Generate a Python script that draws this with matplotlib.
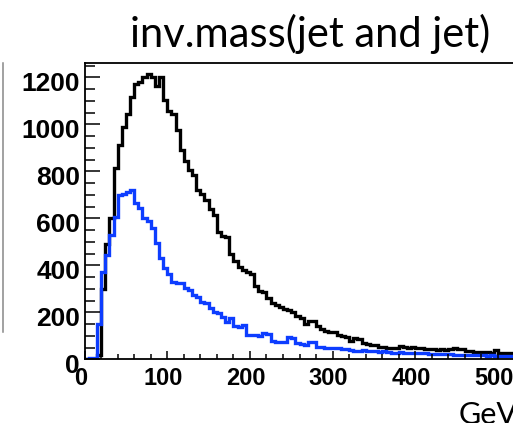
import numpy as np
import matplotlib
matplotlib.use("Agg")
import matplotlib.pyplot as plt
from matplotlib.ticker import MultipleLocator
from matplotlib.transforms import ScaledTranslation
from matplotlib.lines import Line2D

# -----------------------------
# Datos (bins de 5 GeV, 0-600)
# -----------------------------
bin_edges = np.arange(0, 605, 5)

black_counts = [
    0, 0, 0, 20, 300, 490, 600, 815, 910, 990,
    1045, 1115, 1172, 1182, 1200, 1214, 1200, 1165, 1200, 1105,
    1055, 1045, 975, 890, 845, 805, 785, 722, 705, 680,
    640, 615, 540, 525, 520, 450, 420, 392, 380, 370,
    362, 310, 292, 285, 262, 240, 233, 222, 212, 208,
    202, 185, 176, 150, 165, 162, 140, 128, 122, 117,
    115, 104, 100, 95, 76, 90, 88, 70, 64, 62,
    60, 54, 52, 50, 48, 47, 55, 52, 50, 51,
    49, 46, 45, 43, 42, 41, 42, 40, 42, 46,
    45, 44, 37, 35, 31, 30, 29, 30, 28, 38,
    27, 26, 25, 26, 24, 23, 22, 23, 20, 21,
    19, 18, 18, 17, 16, 17, 15, 14, 15, 13,
]

blue_counts = [
    2, 4, 6, 150, 370, 445, 530, 605, 700, 705,
    713, 722, 664, 645, 600, 590, 560, 495, 430, 390,
    365, 330, 325, 325, 305, 295, 275, 265, 245, 240,
    220, 200, 195, 178, 160, 175, 140, 138, 148, 105,
    104, 102, 100, 112, 108, 76, 74, 73, 75, 93,
    90, 68, 64, 62, 74, 72, 53, 51, 50, 48,
    47, 46, 44, 42, 38, 37, 36, 38, 37, 35,
    34, 33, 35, 31, 28, 27, 29, 28, 27, 28,
    26, 27, 25, 23, 22, 22, 21, 22, 21, 20,
    19, 18, 18, 17, 18, 17, 18, 16, 17, 16,
    14, 15, 13, 14, 13, 12, 13, 11, 12, 11,
    10, 11, 10, 9, 10, 9, 8, 9, 8, 8,
]

x_ticks = [0, 100, 200, 300, 400, 500]
y_ticks = [0, 200, 400, 600, 800, 1000, 1200]

# -----------------------------
# Figura
# -----------------------------
fig = plt.figure(figsize=(5.13, 4.23), dpi=100)
ax = fig.add_axes([0.1649, 0.1506, 0.967, 0.7016])

ax.stairs(black_counts, bin_edges, color="black", lw=2.4)
ax.stairs(blue_counts, bin_edges, color="#0d3dff", lw=2.4)

ax.set_xlim(0, 600)
ax.set_ylim(0, 1263)

for s in ax.spines.values():
    s.set_linewidth(1.3)

ax.set_xticks(x_ticks)
ax.set_yticks(y_ticks)
ax.xaxis.set_minor_locator(MultipleLocator(20))
ax.yaxis.set_minor_locator(MultipleLocator(50))

ax.tick_params(axis="y", which="major", direction="in", length=10.8, width=1.1, pad=3.3)
ax.tick_params(axis="y", which="minor", direction="in", length=7.2, width=1.1)
ax.tick_params(axis="x", which="major", direction="in", length=5.8, width=1.1, pad=5.3)
ax.tick_params(axis="x", which="minor", direction="in", length=3.6, width=1.1)

for lab in ax.get_yticklabels():
    lab.set_fontfamily("Liberation Sans")
    lab.set_fontweight("bold")
    lab.set_fontsize(19)
    lab.set_transform(lab.get_transform() + ScaledTranslation(0, -0.04, fig.dpi_scale_trans))
for lab in ax.get_xticklabels():
    lab.set_fontfamily("Liberation Sans")
    lab.set_fontweight("bold")
    lab.set_fontsize(17)
    lab.set_transform(lab.get_transform() + ScaledTranslation(-0.04, 0, fig.dpi_scale_trans))

# -----------------------------
# Textos
# -----------------------------
fig.text(310 / 513, 1 - 46.7 / 423, "inv.mass(jet and jet)", ha="center", va="baseline",
         fontsize=30, family="Lato")
fig.text(459 / 513, 1 - 424 / 423, "GeV", ha="left", va="baseline",
         fontsize=22, family="Lato")

# linea gris del borde izquierdo
fig.add_artist(Line2D([2.5 / 513, 2.5 / 513], [1 - 63 / 423, 1 - 332 / 423],
                      color="#888888", lw=1.1))

fig.savefig("out.png", dpi=100)
